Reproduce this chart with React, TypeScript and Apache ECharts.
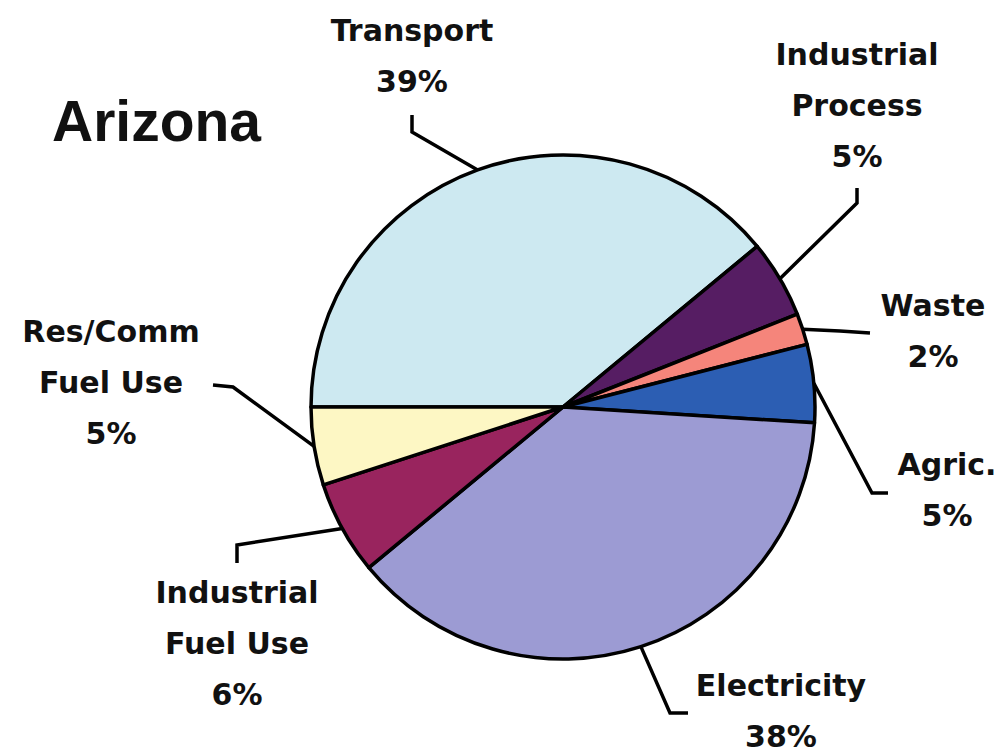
import React, { useEffect, useRef } from "react";
import * as echarts from "echarts";

const categories = [
  "Transport",
  "Industrial\nProcess",
  "Waste",
  "Agric.",
  "Electricity",
  "Industrial\nFuel Use",
  "Res/Comm\nFuel Use",
];
const values = [39, 5, 2, 5, 38, 6, 5];
const sliceColors = ["#cde9f1", "#561d63", "#f5857b", "#2c5eb3", "#9c9bd3", "#99245e", "#fdf7c4"];

// label block centres and leader-line bends (layout, not data)
const labelCentres = [
  [412, 56],
  [857, 105],
  [933, 331],
  [947, 490],
  [781, 711],
  [237, 643],
  [111, 382],
];
const leaderBends = [
  [[412, 132], [412, 115]],
  [[857, 203], [857, 188]],
  [[840, 331], [870, 333]],
  [[872, 493], [888, 493]],
  [[670, 713], [688, 713]],
  [[237, 545], [237, 563]],
  [[233, 387], [213, 385]],
];

export default function App() {
  const ref = useRef<HTMLDivElement>(null);
  useEffect(() => {
    document.body.style.margin = "0";
    const chart = echarts.init(ref.current!, null, { renderer: "svg" });
    chart.setOption({
      animation: false,
      backgroundColor: "#ffffff",
      graphic: [
        {
          type: "text",
          x: 52,
          y: 121,
          style: {
            text: "Arizona",
            fill: "#111",
            font: 'bold 57px "Liberation Sans", Arial, sans-serif',
            verticalAlign: "middle",
            align: "left",
          },
        },
      ],
      series: [
        {
          type: "pie",
          center: [563, 407],
          radius: 252,
          startAngle: 180,
          clockwise: true,
          avoidLabelOverlap: false,
          silent: true,
          emphasis: { disabled: true },
          itemStyle: { borderColor: "#000", borderWidth: 3.5 },
          data: categories.map((name, i) => ({
            name,
            value: values[i],
            itemStyle: { color: sliceColors[i] },
          })),
          label: {
            show: true,
            formatter: "{b}\n{c}%",
            fontFamily: '"DejaVu Sans", sans-serif',
            fontWeight: "bold",
            fontSize: 30,
            lineHeight: 51,
            color: "#111",
            align: "center",
          },
          labelLine: {
            show: true,
            length: 20,
            length2: 20,
            lineStyle: { color: "#000", width: 3.5 },
          },
          labelLayout: (params: any) => {
            const i = params.dataIndex;
            const start = params.labelLinePoints
              ? params.labelLinePoints[0]
              : [563, 407];
            return {
              x: labelCentres[i][0],
              y: labelCentres[i][1],
              align: "center",
              verticalAlign: "middle",
              labelLinePoints: [start, leaderBends[i][0], leaderBends[i][1]],
            };
          },
        },
      ],
    });
    return () => chart.dispose();
  }, []);
  return <div ref={ref} style={{ width: 1000, height: 748 }} />;
}
